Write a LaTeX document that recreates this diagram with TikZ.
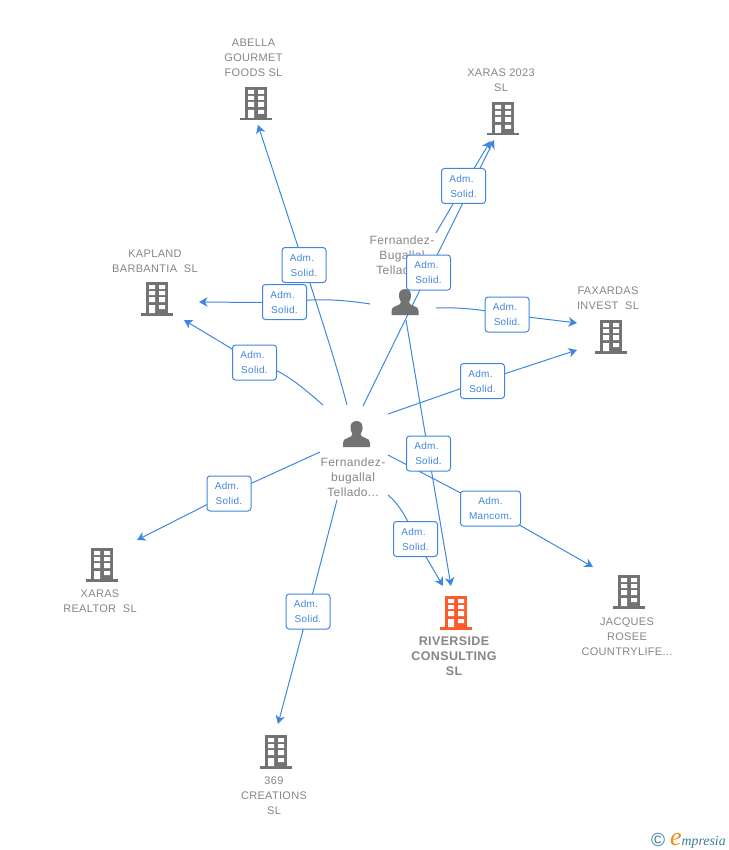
\documentclass[tikz,border=0pt]{standalone}
\usepackage{fontspec}
\setmainfont{Liberation Sans}
\newfontfamily\logofont{Liberation Serif}
\newfontfamily\spfont[LetterSpace=3]{Liberation Sans}
\usetikzlibrary{arrows.meta}
\definecolor{edgeblue}{HTML}{3F86E0}
\definecolor{txtgrey}{HTML}{858585}
\definecolor{icongrey}{HTML}{727272}
\definecolor{hot}{HTML}{FF5A2B}
\definecolor{logoteal}{HTML}{3A7C96}
\definecolor{logoorange}{HTML}{F08A1E}
\pgfdeclarelayer{bg}
\pgfsetlayers{bg,main}
\tikzset{
  edge/.style={draw=edgeblue,line width=1pt,-{Stealth[length=8.5pt,width=9.5pt,inset=2.5pt]}},
  rel/.style={draw=edgeblue,line width=1pt,fill=white,rounded corners=3pt,minimum height=35pt,
    inner sep=0pt,text=edgeblue,align=center,font=\fontsize{10}{15}\selectfont\spfont},
  sol/.style={rel,minimum width=44pt},
  man/.style={rel,minimum width=60pt},
  company/.style={align=center,text=txtgrey,inner sep=0pt,font=\fontsize{11}{15}\selectfont\spfont},
  personlab/.style={align=center,text=txtgrey,inner sep=0pt,font=\fontsize{12}{15}\selectfont\spfont},
  iconbox/.style={inner sep=0pt,minimum size=30pt},
  pics/bldg/.style={code={
    \fill[#1] (-11,-16) rectangle (11,15);
    \fill[#1] (-16,15) rectangle (16,17.5);
    \fill[white] (-8,-13) rectangle (-2,-9) (2,-13) rectangle (8,-9)
      (-8,-7) rectangle (-2,-3) (2,-7) rectangle (8,-3)
      (-8,-1) rectangle (-2,4) (2,-1) rectangle (8,4)
      (-8,7) rectangle (-2,15) (2,7) rectangle (8,11);
  }},
  pics/person/.style={code={
    \fill[icongrey] (0,-14) .. controls (-5,-14) and (-6.5,-10) .. (-6,-6)
      .. controls (-5.7,-3.5) and (-4.5,-2) .. (-4,-1)
      .. controls (-4,1) and (-6,2) .. (-9,3) .. controls (-12,4) and (-13.5,5) .. (-13.5,8)
      -- (-13.5,12) -- (13.5,12) -- (13.5,8)
      .. controls (13.5,5) and (12,4) .. (9,3) .. controls (6,2) and (4,1) .. (4,-1)
      .. controls (4.5,-2) and (5.7,-3.5) .. (6,-6) .. controls (6.5,-10) and (5,-14) .. (0,-14) -- cycle;
  }}
}
\begin{document}
\begin{tikzpicture}[x=1pt,y=-1pt]
\useasboundingbox (0,0) rectangle (728,850);
% entities
\node[iconbox] (abella) at (256,103) {};   \pic at (abella) {bldg=icongrey};
\node[iconbox] (xaras23) at (503,118) {};  \pic at (xaras23) {bldg=icongrey};
\node[iconbox] (kapland) at (157,298) {};  \pic at (kapland) {bldg=icongrey};
\node[iconbox] (faxardas) at (611,336) {}; \pic at (faxardas) {bldg=icongrey};
\node[iconbox] (realtor) at (102,564) {};  \pic at (realtor) {bldg=icongrey};
\node[iconbox] (jacques) at (629,591) {};  \pic at (jacques) {bldg=icongrey};
\node[iconbox] (river) at (456,612) {};    \pic at (river) {bldg=hot};
\node[iconbox] (c369) at (276,751) {};     \pic at (c369) {bldg=icongrey};
\node[iconbox] (p1) at (405,303) {};       \pic at (p1) {person};
\node[iconbox] (p2) at (356.5,435) {};     \pic at (p2) {person};
% captions
\node[company] (tabella) at (253.5,58) {ABELLA\\GOURMET\\FOODS SL};
\node[company] (txaras23) at (501,80) {XARAS 2023\\SL};
\node[company] (tkapland) at (155,261) {KAPLAND\\BARBANTIA\ \ SL};
\node[company] (tfaxardas) at (608,298) {FAXARDAS\\INVEST\ \ SL};
\node[company] (trealtor) at (100,601) {XARAS\\REALTOR\ \ SL};
\node[company] (tjacques) at (627,636.5) {JACQUES\\ROSEE\\COUNTRYLIFE...};
\node[company,font=\fontsize{12.5}{15}\selectfont\bfseries\spfont] (triver) at (454,656) {RIVERSIDE\\CONSULTING\\SL};
\node[company] (t369) at (274,795.5) {369\\CREATIONS\\SL};
\begin{pgfonlayer}{bg}
\node[personlab] (tp1) at (402,255) {Fernandez-\\Bugallal\\Tellado...};
\end{pgfonlayer}
\node[personlab] (tp2) at (353,477) {Fernandez-\\bugallal\\Tellado...};
% relation labels
\def\admsol{\hspace*{-2pt}Adm.\hspace*{2pt}\\Solid.}
\node[sol] (l1) at (304,265) {\admsol};
\node[sol] (l2) at (428.5,272.5) {\admsol};
\node[sol] (l3) at (463.5,186) {\admsol};
\node[sol] (l4) at (284.5,302) {\admsol};
\node[sol] (l5) at (254.5,362.5) {\admsol};
\node[sol] (l6) at (507,314.5) {\admsol};
\node[sol] (l7) at (482.5,381) {\admsol};
\node[sol] (l8) at (428.5,453.5) {\admsol};
\node[sol] (l9) at (415.5,539) {\admsol};
\node[man] (l10) at (490.5,508.5) {Adm.\\Mancom.};
\node[sol] (l11) at (229,493.5) {\admsol};
\node[sol] (l12) at (308,611.5) {\admsol};
% free connector ends
\coordinate (s1) at (347,405);   \coordinate (e1) at (258,125);
\coordinate (s2) at (363,406);   \coordinate (e2) at (494,140);
\coordinate (s3) at (436,233);   \coordinate (e3) at (490.5,141);
\coordinate (s4) at (370,304);   \coordinate (e4) at (199,302);
\coordinate (s5) at (323,405);   \coordinate (e5) at (184,320);
\coordinate (s6) at (436,308);   \coordinate (e6) at (577,323);
\coordinate (s7) at (388,414);   \coordinate (e7) at (577,350);
\coordinate (s8) at (406,320);   \coordinate (e8) at (451,586);
\coordinate (s9) at (388,495);   \coordinate (e9) at (443,586);
\coordinate (s10) at (388,455);  \coordinate (e10) at (593,567);
\coordinate (s11) at (320,452);  \coordinate (e11) at (137,540);
\coordinate (s12) at (337,500);  \coordinate (e12) at (278,724);
\begin{pgfonlayer}{bg}
\draw[edge] (s1) .. controls (338,370) and (322,320) .. (l1.center) -- (e1);
\draw[edge] (s2) -- (l2.center) -- (e2);
\draw[edge] (s3) -- (l3.center) -- (e3);
\draw[edge] (s4) .. controls (345,300) and (320,298) .. (l4.center) .. controls (255,303) and (225,302) .. (e4);
\draw[edge] (s5) .. controls (300,385) and (280,368) .. (l5.center) -- (e5);
\draw[edge] (s6) .. controls (460,307) and (485,310) .. (l6.center) -- (e6);
\draw[edge] (s7) -- (l7.center) -- (e7);
\draw[edge] (s8) -- (l8.center) -- (e8);
\draw[edge] (s9) .. controls (400,505) and (408,520) .. (l9.center) -- (e9);
\draw[edge] (s10) -- (l10.center) -- (e10);
\draw[edge] (s11) -- (l11.center) -- (e11);
\draw[edge] (s12) -- (l12.center) -- (e12);
\end{pgfonlayer}
% footer
\node[inner sep=0pt,text=logoteal,font=\fontsize{19}{19}\selectfont] (copy) at (658,839.5) {©};
\node[inner sep=0pt,anchor=base west,text=logoorange,font=\fontsize{26}{26}\selectfont\logofont\itshape] (elogo) at (670,845) {e};
\node[inner sep=0pt,anchor=base west,text=logoteal,font=\fontsize{13.8}{15}\selectfont\logofont\itshape] (wlogo) at (681.5,845) {mpresia};
\end{tikzpicture}
\end{document}
